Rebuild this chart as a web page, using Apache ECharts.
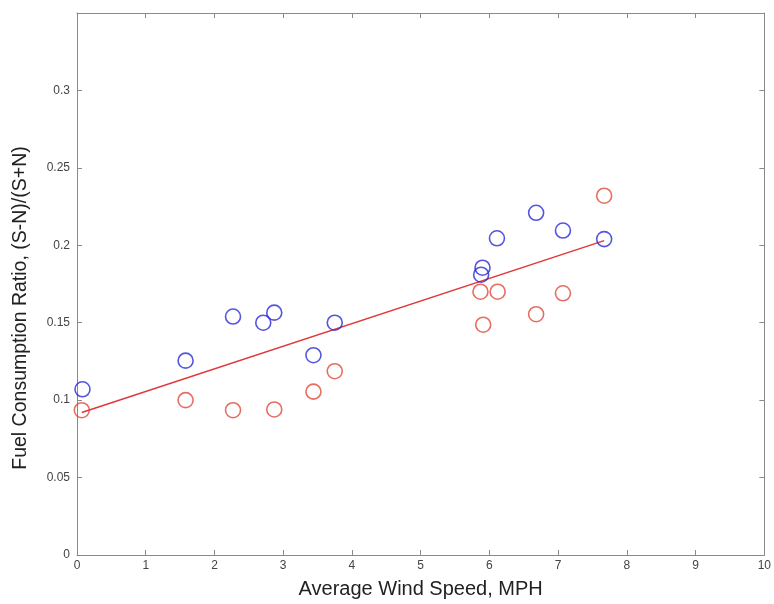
<!DOCTYPE html>
<html>
<head>
<meta charset="utf-8">
<script src="https://cdn.jsdelivr.net/npm/echarts@6/dist/echarts.min.js"></script>
<style>html,body{margin:0;padding:0;background:#fff;overflow:hidden;}#c{width:774px;height:604px;}</style>
</head>
<body>
<div id="c"></div>
<script>
// Blue series (S-N)/(S+N) values
const blueX = [0.08, 1.58, 2.27, 2.71, 2.87, 3.44, 3.75, 5.90, 5.88, 6.11, 6.68, 7.07, 7.67];
const blueY = [0.107, 0.1255, 0.154, 0.150, 0.1565, 0.129, 0.150, 0.1855, 0.181, 0.2045, 0.221, 0.2095, 0.204];
// Red series
const redX = [0.07, 1.58, 2.27, 2.87, 3.44, 3.75, 5.87, 6.12, 5.91, 6.68, 7.07, 7.67];
const redY = [0.0935, 0.100, 0.0935, 0.094, 0.1055, 0.1187, 0.170, 0.170, 0.1487, 0.1555, 0.169, 0.232];
// Linear fit endpoints
const fitX = [0.07, 7.67];
const fitY = [0.092, 0.203];
// Axis ticks
const xTicks = [0, 1, 2, 3, 4, 5, 6, 7, 8, 9, 10];
const yTicks = [0, 0.05, 0.1, 0.15, 0.2, 0.25, 0.3];

const pairs = (xs, ys) => xs.map((x, i) => [x, ys[i]]);
const frame = '#8a8a8a';
const font = '"Liberation Sans", Arial, sans-serif';

const chart = echarts.init(document.getElementById('c'), null, {renderer: 'canvas'});
chart.setOption({
  animation: false,
  backgroundColor: '#ffffff',
  grid: {left: 77, right: 2, top: 13, bottom: 47, containLabel: false},
  xAxis: [{
    type: 'value', min: 0, max: 10, interval: 1,
    name: 'Average Wind Speed, MPH', nameLocation: 'middle', nameGap: 24,
    nameTextStyle: {fontFamily: font, fontSize: 20, color: '#222'},
    axisLine: {show: true, onZero: false, lineStyle: {color: frame, width: 1}},
    axisTick: {show: true, inside: true, length: 5, lineStyle: {color: frame}},
    axisLabel: {fontFamily: font, fontSize: 12, color: '#444', margin: 5,
      formatter: v => xTicks.includes(v) ? String(v) : ''},
    splitLine: {show: false}
  }, {
    type: 'value', position: 'top', min: 0, max: 10, interval: 1,
    axisLine: {show: true, onZero: false, lineStyle: {color: frame, width: 1}},
    axisTick: {show: true, inside: true, length: 5, lineStyle: {color: frame}},
    axisLabel: {show: false}, splitLine: {show: false}
  }],
  yAxis: [{
    type: 'value', min: 0, max: 0.35, interval: 0.05,
    name: 'Fuel Consumption Ratio, (S-N)/(S+N)', nameLocation: 'middle', nameGap: 46,
    nameTextStyle: {fontFamily: font, fontSize: 19.5, color: '#222', padding: [0, 48, 0, 0]},
    axisLine: {show: true, onZero: false, lineStyle: {color: frame, width: 1}},
    axisTick: {show: true, inside: true, length: 5, lineStyle: {color: frame}},
    axisLabel: {fontFamily: font, fontSize: 12, color: '#444', margin: 7,
      formatter: v => {
        const t = yTicks.find(y => Math.abs(y - v) < 1e-9);
        return t === undefined ? '' : String(t);
      }},
    splitLine: {show: false}
  }, {
    type: 'value', position: 'right', min: 0, max: 0.35, interval: 0.05,
    axisLine: {show: true, onZero: false, lineStyle: {color: frame, width: 1}},
    axisTick: {show: true, inside: true, length: 5, lineStyle: {color: frame}},
    axisLabel: {show: false}, splitLine: {show: false}
  }],
  series: [{
    type: 'line', data: pairs(fitX, fitY), showSymbol: false, symbol: 'none',
    lineStyle: {color: '#e03838', width: 1.5}, z: 2
  }, {
    type: 'scatter', data: pairs(blueX, blueY), symbol: 'circle', symbolSize: 15,
    itemStyle: {color: 'rgba(0,0,0,0)', borderColor: '#2b2bd6', borderWidth: 1.6}, z: 3
  }, {
    type: 'scatter', data: pairs(redX, redY), symbol: 'circle', symbolSize: 15,
    itemStyle: {color: 'rgba(0,0,0,0)', borderColor: '#e04a3a', borderWidth: 1.6}, z: 3
  }]
});
</script>
</body>
</html>
